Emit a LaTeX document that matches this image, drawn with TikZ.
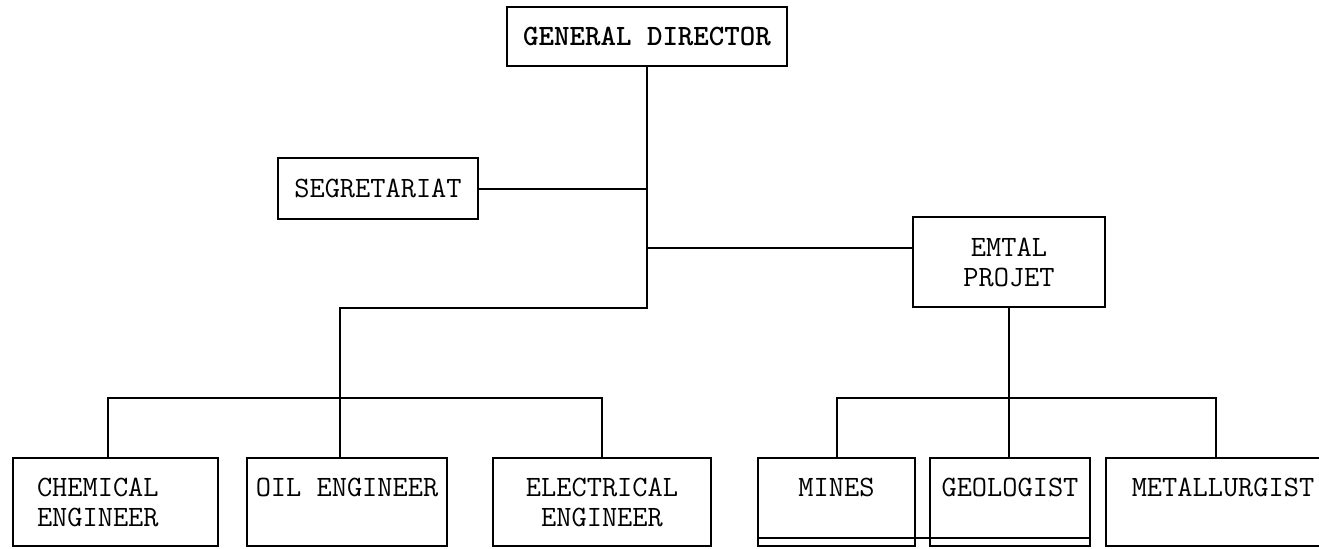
\documentclass[tikz,border=0pt]{standalone}
\usepackage{fontspec}
\usetikzlibrary{calc}

\begin{document}
\begin{tikzpicture}[x=0.5pt, y=-0.5pt, line width=1pt,
		post/.style={draw, align=center, inner sep=0pt, font=\ttfamily\fontsize{14.76}{15}\selectfont},
		rowpost/.style={post, minimum height=44pt}]
		\useasboundingbox (0,0) rectangle (1319,548);
		\clip (0,0) rectangle (1319,548);
		% top of the chart
		\node[post, minimum width=140pt, minimum height=29.5pt] (gd) at (647,36.5) {\bfseries GENERAL DIRECTOR};
		\node[post, minimum width=100pt, minimum height=30.5pt] (sec) at (378,188.5) {SEGRETARIAT};
		\node[post, minimum width=96pt, minimum height=45pt] (emtal) at (1009,262) {EMTAL\\PROJET};
		% bottom row
		\node[rowpost, minimum width=102.5pt, align=left, text width=78.5pt, inner xsep=12pt] (chem) at (115.5,502) {CHEMICAL\\ENGINEER};
		\node[rowpost, minimum width=100pt] (oil) at (347,502) {OIL ENGINEER\\\mbox{}};
		\node[rowpost, minimum width=109pt] (elec) at (602,502) {ELECTRICAL\\ENGINEER};
		\node[rowpost, minimum width=78.5pt] (mines) at (836.5,502) {MINES\\\mbox{}};
		\node[rowpost, minimum width=80pt] (geo) at (1010,502) {GEOLOGIST\\\mbox{}};
		\node[rowpost, minimum width=117pt] (metal) at (1223,502) {METALLURGIST\\\mbox{}};
		% trunk and branches
		\coordinate (jE) at (647,248);
		\coordinate (jS) at (647,308);
		\coordinate (jL) at (340,398);
		\coordinate (jR) at (1009,398);
		\draw (gd.south) -- (jS) -| (jL) -- (oil.north -| jL);
		\draw (sec.east) -- (sec.east -| gd.south);
		\draw (jE) -- (jE -| emtal.west);
		\draw ([xshift=-3.75pt]chem.north) |- (jL) -| (elec.north);
		\draw (emtal.south) -- (jR) -- (geo.north -| jR);
		\draw (mines.north) |- (jR) -| ([xshift=-3.5pt]metal.north);
		% second bottom line under mines and geologist
		\draw ([yshift=4.5pt]mines.south west) -- ([yshift=4.5pt]geo.south east);
	\end{tikzpicture}
\end{document}
